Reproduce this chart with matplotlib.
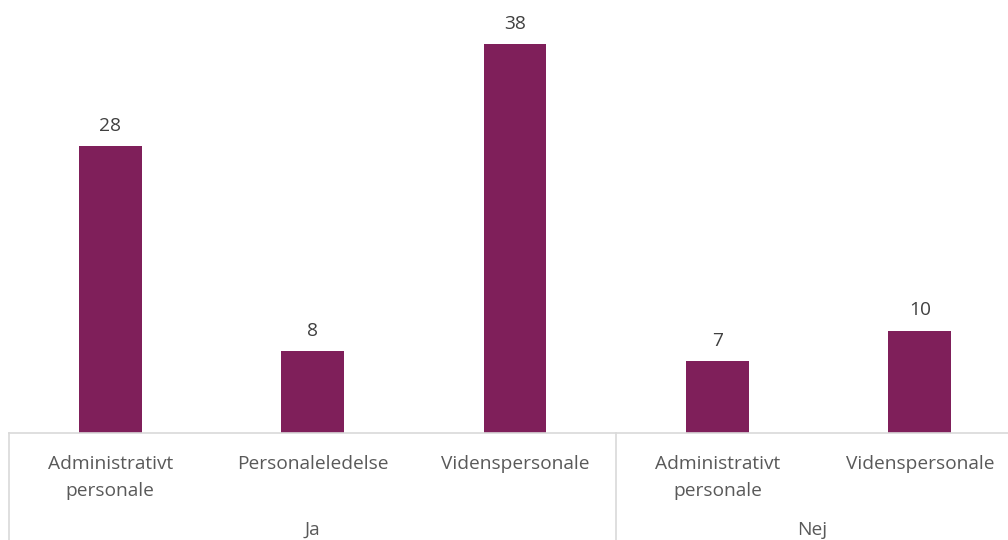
import matplotlib
matplotlib.use("Agg")
import matplotlib.pyplot as plt
import matplotlib.transforms as mtransforms

plt.rcParams['font.family'] = ['Open Sans', 'DejaVu Sans']

categories = ["Administrativt\npersonale", "Personaleledelse", "Videnspersonale",
              "Administrativt\npersonale", "Videnspersonale"]
values = [28, 8, 38, 7, 10]
groups = ["Ja", "Nej"]
group_sizes = [3, 2]

bar_color = "#7F1F5A"
text_color = "#595959"
value_color = "#404040"
line_color = "#D9D9D9"

fig = plt.figure(figsize=(10.08, 5.40), dpi=100)
ax = fig.add_axes([9 / 1008, 107 / 540, 1012 / 1008, 409.6 / 540])

x = list(range(len(values)))
bars = ax.bar(x, values, width=0.31, color=bar_color, zorder=2)
for xi, v in zip(x, values):
    ax.annotate(f"{v}", (xi, v), xytext=(0, 8), textcoords="offset points",
                ha="center", va="bottom", fontsize=13.8, color=value_color)

ax.set_xlim(-0.5, len(values) - 0.5)
ax.set_ylim(0, 40)
ax.set_yticks([])
ax.set_xticks(x)
ax.set_xticklabels(categories, fontsize=13.8, color=text_color, linespacing=1.62)
ax.tick_params(axis="x", length=0, pad=16)

for side in ("top", "right", "left"):
    ax.spines[side].set_visible(False)
ax.spines["bottom"].set_color(line_color)
ax.spines["bottom"].set_linewidth(1.2)

trans = mtransforms.blended_transform_factory(ax.transData, ax.transAxes)
edges = [-0.5]
for n in group_sizes:
    edges.append(edges[-1] + n)
for e in edges:
    ax.plot([e, e], [0, -0.3], transform=trans, color=line_color,
            linewidth=1.2, clip_on=False)

# group captions, centred on the visible part of each group
fig_right = (1008 - 9) / 1012 * len(values) - 0.5
for i, g in enumerate(groups):
    lo = edges[i]
    hi = min(edges[i + 1], fig_right)
    ax.text((lo + hi) / 2, -0.237, g, transform=trans, ha="center", va="center",
            fontsize=13.8, color=text_color)

fig.savefig("out.png", dpi=100)
